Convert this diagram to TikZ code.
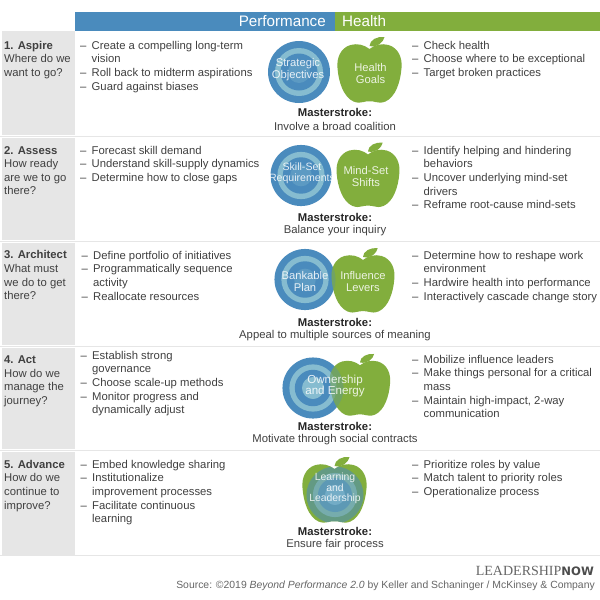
\documentclass[tikz,border=0pt]{standalone}
\usepackage{fontspec}
\setmainfont{Liberation Sans}
\usetikzlibrary{positioning}
\definecolor{perfblue}{HTML}{4A8BBD}
\definecolor{ringblue}{HTML}{86BCD0}
\definecolor{healthgreen}{HTML}{82AE3D}
\definecolor{rowgray}{HTML}{E6E6E6}
\definecolor{bodytext}{HTML}{404040}
\newcommand{\itm}{\makebox[11.5pt][l]{--}}
\newcommand{\cnt}{\hspace*{11.5pt}}
\newcommand{\listfont}{\fontsize{11.3}{13.6}\selectfont}
\newcommand{\applepath}{(0,-21) .. controls (-5,-25) and (-12,-27) .. (-19,-25)
	.. controls (-29,-22) and (-33,-12) .. (-32,-2)
	.. controls (-31,12) and (-26,27) .. (-16,31.5)
	.. controls (-12,33) and (-9,33) .. (-6,32)
	.. controls (-3,31) and (3,31) .. (6,32)
	.. controls (9,33) and (12,33) .. (16,31.5)
	.. controls (26,27) and (31,12) .. (32,-2)
	.. controls (33,-12) and (29,-22) .. (19,-25)
	.. controls (12,-27) and (5,-25) .. (0,-21) -- cycle}
\tikzset{
	applepic/.pic={
		\fill[healthgreen] \applepath;
		\fill[healthgreen] (0,-24) .. controls (0,-30) and (8,-34) .. (15,-33)
			.. controls (14,-28) and (8,-22) .. (0,-24) -- cycle;
	},
	targetpic/.pic={
		\fill[perfblue] (0,0) circle (31);
		\fill[ringblue] (0,0) circle (24);
		\fill[perfblue] (0,0) circle (18.5);
		\fill[perfblue!70!ringblue] (0,0) circle (11);
	},
	rowtext/.style={anchor=north west,align=left,inner sep=0pt,text=bodytext,font=\listfont},
	inshape/.style={align=center,inner sep=0pt,text=white,text opacity=.85},
	strokehead/.style={inner sep=0pt,text=black!85,font=\fontsize{11.3}{13.6}\selectfont\bfseries},
	stroketext/.style={inner sep=0pt,text=bodytext,font=\listfont},
}
\begin{document}
\begin{tikzpicture}[x=1pt,y=-1pt,node distance=14pt,on grid]
	\useasboundingbox (0,0) rectangle (600,600);
	\fill[white] (0,0) rectangle (600,600);

	\fill[perfblue] (75,12) rectangle (335,31);
	\fill[healthgreen] (335,12) rectangle (600,31);
	\foreach \top/\bot in {31/135,138/240,243/345,348/449,452/555}
		\fill[rowgray] (2,\top) rectangle (75,\bot);
	\foreach \y in {136.5,241.5,346.5,450.5,555.5}
		\draw[rowgray,line width=1.6pt] (0,\y) -- (600,\y);

	\node[inner sep=0pt,anchor=east,text=white,font=\fontsize{15.2}{18}\selectfont] (perf) at (326,21.5) {Performance};
	\node[inner sep=0pt,anchor=west,text=white,font=\fontsize{15.2}{18}\selectfont] (health) at (342,21.5) {Health};

	\node[rowtext] (lbl1) at (4,41) {\textbf{1. Aspire}\\Where do we\\want to go?};
	\node[rowtext] (lbl2) at (4,146) {\textbf{2. Assess}\\How ready\\are we to go\\there?};
	\node[rowtext] (lbl3) at (4,250.5) {\textbf{3. Architect}\\What must\\we do to get\\there?};
	\node[rowtext] (lbl4) at (4,355.5) {\textbf{4. Act}\\How do we\\manage the\\journey?};
	\node[rowtext] (lbl5) at (4,460) {\textbf{5. Advance}\\How do we\\continue to\\improve?};

	\node[rowtext] (perf1) at (80,41) {\itm Create a compelling long-term\\\cnt vision\\\itm Roll back to midterm aspirations\\\itm Guard against biases};
	\node[rowtext] (perf2) at (80,146) {\itm Forecast skill demand\\\itm Understand skill-supply dynamics\\\itm Determine how to close gaps};
	\node[rowtext] (perf3) at (81.5,251) {\itm Define portfolio of initiatives\\\itm Programmatically sequence\\\cnt activity\\\itm Reallocate resources};
	\node[rowtext] (perf4) at (80.5,351) {\itm Establish strong\\\cnt governance\\\itm Choose scale-up methods\\\itm Monitor progress and\\\cnt dynamically adjust};
	\node[rowtext] (perf5) at (80.5,460) {\itm Embed knowledge sharing\\\itm Institutionalize\\\cnt improvement processes\\\itm Facilitate continuous\\\cnt learning};

	\node[rowtext] (hlth1) at (412,41) {\itm Check health\\\itm Choose where to be exceptional\\\itm Target broken practices};
	\node[rowtext] (hlth2) at (412,146) {\itm Identify helping and hindering\\\cnt behaviors\\\itm Uncover underlying mind-set\\\cnt drivers\\\itm Reframe root-cause mind-sets};
	\node[rowtext] (hlth3) at (412,251) {\itm Determine how to reshape work\\\cnt environment\\\itm Hardwire health into performance\\\itm Interactively cascade change story};
	\node[rowtext] (hlth4) at (412,355) {\itm Mobilize influence leaders\\\itm Make things personal for a critical\\\cnt mass\\\itm Maintain high-impact, 2-way\\\cnt communication};
	\node[rowtext] (hlth5) at (412,460) {\itm Prioritize roles by value\\\itm Match talent to priority roles\\\itm Operationalize process};

	\pic (tgt1) at (299,72) {targetpic};
	\pic (app1) at (369.5,70) {applepic};
	\pic[scale=.985] (tgt2) at (301,175.5) {targetpic};
	\pic[scale=.98] (app2) at (368,175) {applepic};

	\pic[scale=.985] (tgt3) at (305,279.5) {targetpic};
	\pic[scale=.98] (app3) at (363,280.5) {applepic};
	\begin{scope}
		\clip[shift={(363,280.5)},scale=.98] \applepath;
		\pic[scale=.985,opacity=.3] (tgt3b) at (305,279.5) {targetpic};
	\end{scope}

	\pic[scale=.985] (tgt4) at (313,388) {targetpic};
	\fill[ringblue] (313,388) circle (11);
	\pic[scale=.94] (app4) at (360,385) {applepic};
	\begin{scope}
		\clip[shift={(360,385)},scale=.94] \applepath;
		\pic[scale=.985,opacity=.3] (tgt4b) at (313,388) {targetpic};
	\end{scope}

	\pic (app5) at (334.5,490) {applepic};
	\begin{scope}
		\clip[shift={(334.5,490)}] \applepath;
		\pic[scale=.92,opacity=.55] (tgt5) at (335,495) {targetpic};
		\fill[ringblue,opacity=.55] (335,495) circle (10);
	\end{scope}

	\node[inshape,font=\fontsize{11.2}{11.4}\selectfont] (in1a) at (298,69.5) {Strategic\\Objectives};
	\node[inshape,font=\fontsize{11.2}{12}\selectfont] (in1b) at (370.5,73) {Health\\Goals};
	\node[inshape,font=\fontsize{10.6}{11.4}\selectfont] (in2a) at (302,173) {Skill-Set\\Requirements};
	\node[inshape,font=\fontsize{11.2}{11.4}\selectfont] (in2b) at (366,176.5) {Mind-Set\\Shifts};
	\node[inshape,font=\fontsize{11.2}{11.4}\selectfont] (in3a) at (305,281.5) {Bankable\\Plan};
	\node[inshape,font=\fontsize{11.2}{11.4}\selectfont] (in3b) at (363,281.5) {Influence\\Levers};
	\node[inshape,font=\fontsize{11.6}{11.4}\selectfont] (in4) at (335,386) {Ownership\\and Energy};
	\node[inshape,font=\fontsize{10.4}{10.2}\selectfont] (in5) at (335,488.5) {Learning\\and\\Leadership};

	\node[strokehead] (ms1) at (335,112) {Masterstroke:};
	\node[stroketext] (mt1) [below=of ms1] {Involve a broad coalition};
	\node[strokehead] (ms2) at (335,217) {Masterstroke:};
	\node[stroketext] (mt2) [below=of ms2] {Balance your inquiry};
	\node[strokehead] (ms3) at (335,322) {Masterstroke:};
	\node[stroketext] (mt3) [below=of ms3] {Appeal to multiple sources of meaning};
	\node[strokehead] (ms4) at (335,426) {Masterstroke:};
	\node[stroketext] (mt4) [below=of ms4] {Motivate through social contracts};
	\node[strokehead] (ms5) at (335,531) {Masterstroke:};
	\node[stroketext] (mt5) [below=of ms5] {Ensure fair process};

	\node[inner sep=0pt,anchor=east,text=black!60,font=\fontsize{14}{14}\selectfont] (logo) at (594,571) {\fontspec{Liberation Serif}LEADERSHIP\fontsize{11.6}{14}\fontspec{DejaVu Sans}\bfseries\textcolor{black!70}{NOW}};
	\node[inner sep=0pt,anchor=east,text=black!60,font=\fontsize{10.4}{13}\selectfont] (src) at (595,586) {Source: ©2019 \textit{Beyond Performance 2.0} by Keller and Schaninger / McKinsey \& Company};
\end{tikzpicture}
\end{document}
